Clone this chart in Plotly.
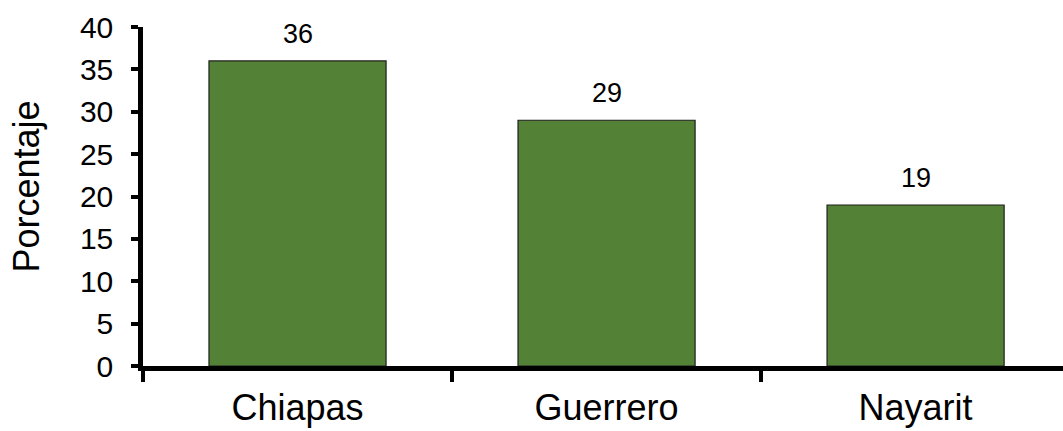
import plotly.graph_objects as go

# Porcentaje por estado
estados = ["Chiapas", "Guerrero", "Nayarit"]
porcentajes = [36, 29, 19]
y_ticks = [0, 5, 10, 15, 20, 25, 30, 35, 40]

FONT = "Liberation Sans, Arial, sans-serif"
BAR_GREEN = "#538135"

fig = go.Figure()
fig.add_trace(go.Bar(
    x=estados,
    y=porcentajes,
    width=0.573,
    marker=dict(color=BAR_GREEN, line=dict(color="#1e1e1e", width=1.2)),
    hoverinfo="x+y",
))

# value labels above each bar
for est, val in zip(estados, porcentajes):
    fig.add_annotation(
        x=est, y=val, text=str(val), showarrow=False,
        xanchor="center", yanchor="middle", yshift=27,
        font=dict(family=FONT, size=27, color="#000000"),
    )

# y-axis title
fig.add_annotation(
    xref="paper", yref="paper", x=0, y=0.5, xshift=-117, yshift=10,
    text="Porcentaje", textangle=-90, showarrow=False,
    xanchor="center", yanchor="middle",
    font=dict(family=FONT, size=36, color="#000000"),
)

fig.update_layout(
    width=1063, height=431,
    margin=dict(l=143, r=0, t=27, b=65),
    paper_bgcolor="white", plot_bgcolor="white",
    showlegend=False,
    font=dict(family=FONT, color="#000000"),
)
fig.update_xaxes(
    type="category",
    range=[-0.5, 2.477],
    showline=True, linecolor="#000000", linewidth=4.5,
    ticks="outside", tickson="boundaries", ticklen=11, tickwidth=4, tickcolor="#000000",
    ticklabelstandoff=6,
    tickfont=dict(family=FONT, size=36, color="#000000"),
    showgrid=False, zeroline=False,
)
fig.update_yaxes(
    range=[0, 40],
    tickvals=y_ticks,
    showline=True, linecolor="#000000", linewidth=4.5,
    ticks="outside", ticklen=7, tickwidth=3.5, tickcolor="#000000",
    ticklabelstandoff=12,
    tickfont=dict(family=FONT, size=30, color="#000000"),
    showgrid=False, zeroline=False,
)

fig.write_html("out.html")
